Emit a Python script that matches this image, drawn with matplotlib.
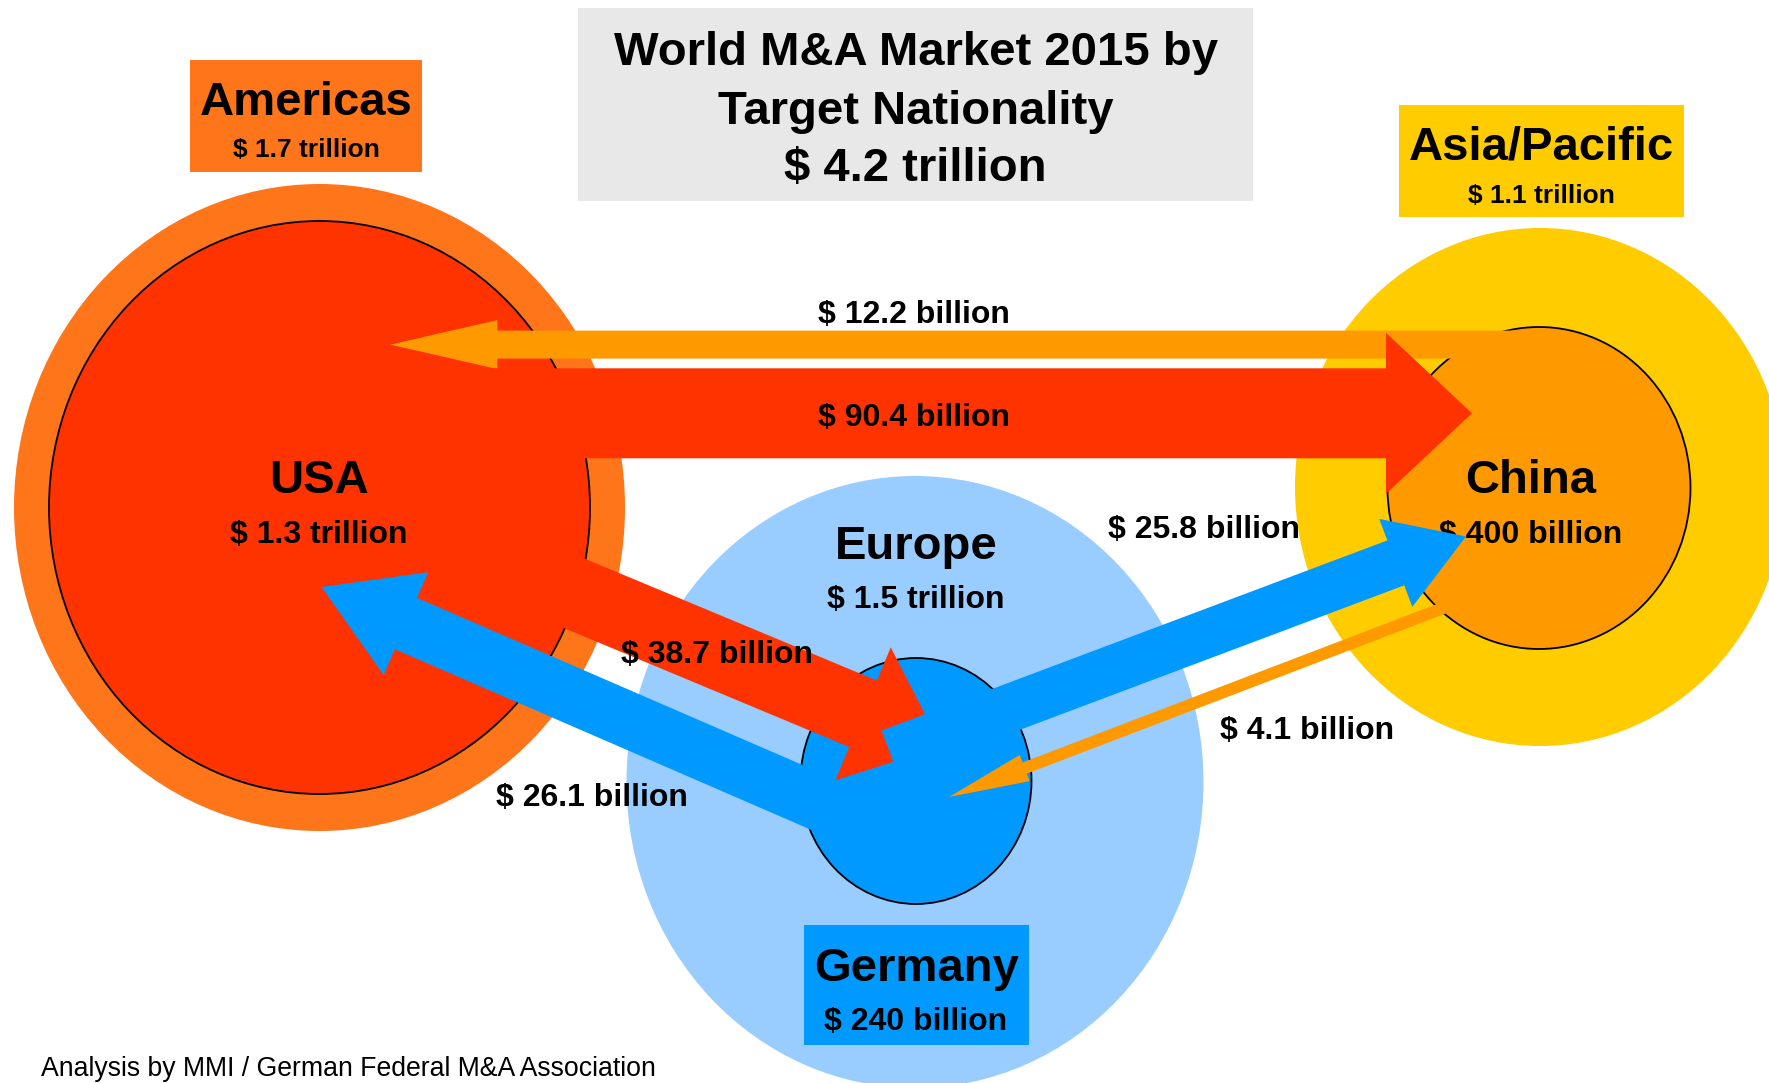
import matplotlib
matplotlib.use("Agg")
import matplotlib.pyplot as plt
from matplotlib.patches import Ellipse, Rectangle, FancyArrow

plt.rcParams["font.family"] = ["Liberation Sans", "DejaVu Sans"]

# data
TITLE_LINES = ["World M&A Market 2015 by", "Target Nationality", "$ 4.2 trillion"]
REGIONS = ["Americas", "Europe", "Asia/Pacific"]
REGION_VALUES = ["$ 1.7 trillion", "$ 1.5 trillion", "$ 1.1 trillion"]
COUNTRIES = ["USA", "Germany", "China"]
COUNTRY_VALUES = ["$ 1.3 trillion", "$ 240 billion", "$ 400 billion"]
FLOW_SRC = ["China", "USA", "Germany", "USA", "Germany", "China"]
FLOW_DST = ["USA", "China", "USA", "Germany", "China", "Germany"]
FLOW_BN = [12.2, 90.4, 26.1, 38.7, 25.8, 4.1]
SOURCE = "Analysis by MMI / German Federal M&A Association"

# layout (pixel space of the 1769x1083 canvas)
W, H = 1769, 1083
REGION_COLORS = {"Americas": "#FF751A", "Europe": "#99CCFF", "Asia/Pacific": "#FFCC00"}
COUNTRY_COLORS = {"USA": "#FF3300", "Germany": "#0099FF", "China": "#FF9900"}
OUTER = {"Americas": (319.5, 507.5, 611, 647), "Europe": (915, 782, 577, 612),
         "Asia/Pacific": (1540, 487, 490, 518)}
INNER = {"USA": (319.5, 507.5, 541, 573), "Germany": (916, 781, 231, 246),
         "China": (1539, 488, 303, 322)}
# (start, tip, shaft width, head width, head length) per flow
ARROWS = {
    12.2: ((1555, 344.6), (390.4, 344.6), 28, 49, 107),
    90.4: ((400, 413.3), (1472, 413.3), 90, 161, 86),
    26.1: ((882, 830), (321.5, 587), 56, 112, 92),
    38.7: ((420, 529), (941.5, 746.5), 72, 144, 85),
    25.8: ((890, 753), (1466, 536.5), 48, 94, 75),
    4.1: ((1446, 607), (949, 797), 12, 28, 81),
}
LABEL_POS = {12.2: (914, 323.3), 90.4: (914, 426), 26.1: (591.7, 806),
             38.7: (716.7, 662.7), 25.8: (1203.5, 538), 4.1: (1307, 739.3)}

fig = plt.figure(figsize=(W / 100, H / 100), dpi=100)
ax = fig.add_axes([0, 0, 1, 1])
ax.set_xlim(0, W)
ax.set_ylim(H, 0)
ax.axis("off")

# title box
ax.add_patch(Rectangle((578, 8), 675, 193, color="#E8E8E8", lw=0, zorder=1))
for line, y in zip(TITLE_LINES, [64.9, 123.5, 180.6]):
    ax.text(915.5, y, line, ha="center", va="baseline", fontsize=34,
            fontweight="bold", zorder=6)

# region / country circles
for name in REGIONS:
    cx, cy, ew, eh = OUTER[name]
    ax.add_patch(Ellipse((cx, cy), ew, eh, color=REGION_COLORS[name], lw=0, zorder=1))
for name in COUNTRIES:
    cx, cy, ew, eh = INNER[name]
    ax.add_patch(Ellipse((cx, cy), ew, eh, facecolor=COUNTRY_COLORS[name],
                         edgecolor="black", lw=1.3, zorder=2))

# label boxes
ax.add_patch(Rectangle((190, 60), 232, 112, color=REGION_COLORS["Americas"], lw=0, zorder=1))
ax.add_patch(Rectangle((1399, 104.5), 285, 112.5, color=REGION_COLORS["Asia/Pacific"], lw=0, zorder=1))
ax.add_patch(Rectangle((803.5, 925), 225, 119.5, color=COUNTRY_COLORS["Germany"], lw=0, zorder=3))

region_txt = {"Americas": (306, 115, 157, 19), "Europe": (916, 559.3, 608.3, 23),
              "Asia/Pacific": (1541, 159.6, 202.7, 19)}
for name, val in zip(REGIONS, REGION_VALUES):
    x, y1, y2, fs = region_txt[name]
    ax.text(x, y1, name, ha="center", va="baseline", fontsize=34, fontweight="bold", zorder=3)
    ax.text(x, y2, val, ha="center", va="baseline", fontsize=fs, fontweight="bold", zorder=3)

country_txt = {"USA": (319, 492.8, 543), "Germany": (916, 981, 1030), "China": (1531, 493.3, 542.7)}
for name, val in zip(COUNTRIES, COUNTRY_VALUES):
    x, y1, y2 = country_txt[name]
    ax.text(x, y1, name, ha="center", va="baseline", fontsize=34, fontweight="bold", zorder=4)
    ax.text(x, y2, val, ha="center", va="baseline", fontsize=23, fontweight="bold", zorder=4)

# flows
for src, dst, val in zip(FLOW_SRC, FLOW_DST, FLOW_BN):
    (x0, y0), (x1, y1), sw, hw, hl = ARROWS[val]
    ax.add_patch(FancyArrow(x0, y0, x1 - x0, y1 - y0, width=sw, head_width=hw,
                            head_length=hl, length_includes_head=True,
                            color=COUNTRY_COLORS[src], lw=0, zorder=5))
    lx, ly = LABEL_POS[val]
    ax.text(lx, ly, "$ {} billion".format(val), ha="center", va="baseline",
            fontsize=23, fontweight="bold", zorder=7)

ax.text(41, 1076, SOURCE, ha="left", va="baseline", fontsize=19.2, zorder=7)

fig.savefig("out.png", dpi=100)
